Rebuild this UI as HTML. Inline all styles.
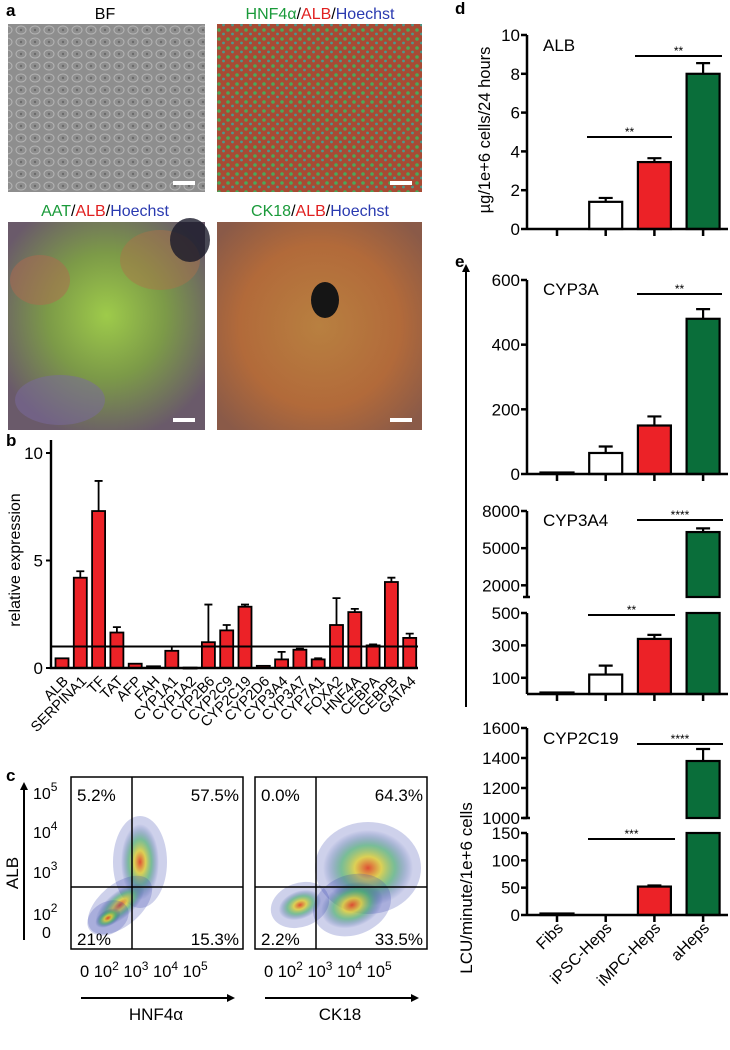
<!DOCTYPE html>
<html><head><meta charset="utf-8">
<style>
html,body{margin:0;padding:0;background:#fff;}
svg{display:block;font-family:"Liberation Sans",sans-serif;}
</style></head>
<body>
<svg id="fig" width="730" height="1050" viewBox="0 0 730 1050" xmlns="http://www.w3.org/2000/svg">
<defs>
  <pattern id="greenDots" width="9" height="9" patternUnits="userSpaceOnUse">
    <rect width="9" height="9" fill="#a84a34"/>
    <circle cx="3" cy="3" r="1.8" fill="#4aa85a"/>
    <circle cx="7.5" cy="7" r="1.4" fill="#4a9a8a"/>
  </pattern>
  <pattern id="bfTex" width="14" height="12" patternUnits="userSpaceOnUse">
    <rect width="14" height="12" fill="#8e8e8e"/>
    <ellipse cx="7" cy="6" rx="5" ry="4" fill="none" stroke="#b4b4b4" stroke-width="1"/>
    <circle cx="7" cy="6" r="1.2" fill="#6a6a6a"/>
  </pattern>
  <radialGradient id="aatG" cx="50%" cy="45%" r="60%">
    <stop offset="0" stop-color="#9ecb4a"/><stop offset="0.5" stop-color="#7c9a48"/><stop offset="1" stop-color="#6a5a6a"/>
  </radialGradient>
  <radialGradient id="ck18G" cx="50%" cy="50%" r="65%">
    <stop offset="0" stop-color="#b88040"/><stop offset="0.6" stop-color="#b26a3a"/><stop offset="1" stop-color="#8a5a48"/>
  </radialGradient>
  <radialGradient id="flowA" cx="50%" cy="50%" r="50%">
    <stop offset="0" stop-color="#e04020" stop-opacity="0.9"/><stop offset="0.3" stop-color="#e0d030" stop-opacity="0.8"/><stop offset="0.6" stop-color="#40b060" stop-opacity="0.6"/><stop offset="1" stop-color="#2030a0" stop-opacity="0"/>
  </radialGradient>
  <marker id="arrowHead" markerWidth="8" markerHeight="8" refX="4" refY="4" orient="auto" markerUnits="userSpaceOnUse"><path d="M0,0 L8,4 L0,8 z" fill="#000"/></marker>
</defs>

<g>
  <text x="6" y="16" font-size="17" font-weight="bold">a</text>
  <text x="105" y="19" font-size="16" text-anchor="middle">BF</text>
  <text x="320" y="19" font-size="16" text-anchor="middle"><tspan fill="#1a9a3a">HNF4α</tspan>/<tspan fill="#e02020">ALB</tspan>/<tspan fill="#2a3ab0">Hoechst</tspan></text>
  <rect x="8" y="24" width="197" height="168" fill="url(#bfTex)"/>
  <rect x="217" y="24" width="205" height="168" fill="url(#greenDots)"/>
  <rect x="173" y="181" width="22" height="4" fill="#fff"/>
  <rect x="390" y="181" width="22" height="4" fill="#fff"/>
  <text x="105" y="216" font-size="16" text-anchor="middle"><tspan fill="#1a9a3a">AAT</tspan>/<tspan fill="#e02020">ALB</tspan>/<tspan fill="#2a3ab0">Hoechst</tspan></text>
  <text x="320" y="216" font-size="16" text-anchor="middle"><tspan fill="#1a9a3a">CK18</tspan>/<tspan fill="#e02020">ALB</tspan>/<tspan fill="#2a3ab0">Hoechst</tspan></text>
  <rect x="8" y="222" width="197" height="208" fill="url(#aatG)"/>
  <ellipse cx="40" cy="280" rx="30" ry="25" fill="#b06a50" opacity="0.5"/>
  <ellipse cx="160" cy="260" rx="40" ry="30" fill="#b0704a" opacity="0.45"/>
  <ellipse cx="60" cy="400" rx="45" ry="25" fill="#7a6aa0" opacity="0.5"/>
  <ellipse cx="190" cy="240" rx="20" ry="22" fill="#1a1a2a" opacity="0.8"/>
  <rect x="217" y="222" width="205" height="208" fill="url(#ck18G)"/>
  <ellipse cx="325" cy="300" rx="14" ry="18" fill="#151515"/>
  <rect x="173" y="418" width="22" height="4" fill="#fff"/>
  <rect x="390" y="418" width="22" height="4" fill="#fff"/>
</g>

<g id="panelB"></g>
<g id="panelC"></g>
<g id="panelD"></g>
<g id="panelE"></g>
</svg>

<script>
// ---------- data ----------
const genes = ["ALB","SERPINA1","TF","TAT","AFP","FAH","CYP1A1","CYP1A2","CYP2B6","CYP2C9","CYP2C19","CYP2D6","CYP3A4","CYP3A7","CYP7A1","FOXA2","HNF4A","CEBPA","CEBPB","GATA4"];
const geneMeans = [0.45,4.2,7.3,1.65,0.2,0.08,0.8,0.02,1.2,1.75,2.85,0.1,0.4,0.85,0.4,2.0,2.6,1.05,4.0,1.4];
const geneErrTops = [0.45,4.5,8.7,1.9,0.2,0.08,1.0,0.02,2.95,2.0,2.95,0.1,0.75,0.9,0.45,3.25,2.75,1.1,4.2,1.6];
const geneTicks = [0,5,10];

const groups = ["Fibs","iPSC-Heps","iMPC-Heps","aHeps"];
const groupColors = ["#fff","#fff","#ec2227","#0a6e3a"];
const albMeans = [0,1.4,3.45,8.0];
const albErr = [0,1.6,3.65,8.55];
const albTicks = [0,2,4,6,8,10];
const cyp3aMeans = [4,65,150,480];
const cyp3aErr = [4,85,178,510];
const cyp3aTicks = [0,200,400,600];
const cyp3a4Means = [2,120,340,6300];
const cyp3a4Err = [2,175,365,6600];
const cyp3a4Ticks = [100,300,500,2000,5000,8000];
const cyp2c19Means = [1,0,52,1380];
const cyp2c19Err = [1,0,54,1460];
const cyp2c19Ticks = [0,50,100,150,1000,1200,1400,1600];

const NS = "http://www.w3.org/2000/svg";
function el(parent, tag, attrs, text){
  const e = document.createElementNS(NS, tag);
  for (const k in attrs) e.setAttribute(k, attrs[k]);
  if (text !== undefined) e.textContent = text;
  parent.appendChild(e);
  return e;
}

// ---------- panel b ----------
(function(){
  const g = document.getElementById('panelB');
  const x0 = 51, xEnd = 418, y0 = 668, pxPerUnit = 21.5;
  const y = v => y0 - v * pxPerUnit;
  const xc = i => 62 + i * 18.3;
  let t = el(g,'text',{x:6,y:446,'font-size':17,'font-weight':'bold'},'b');
   
  genes.forEach((gn,i)=>{
    const top = y(geneMeans[i]);
    const r = el(g,'rect',{x:xc(i)-6.5,y:top,width:13,height:Math.max(y0-top,1),fill:'#ec2227',stroke:'#000','stroke-width':1.8});
     
    if (geneErrTops[i] > geneMeans[i]+0.02){
      const ey = y(geneErrTops[i]);
      const l = el(g,'path',{d:`M${xc(i)},${top} V${ey} M${xc(i)-4},${ey} H${xc(i)+4}`,stroke:'#000','stroke-width':1.8,fill:'none'});
       
    }
    const lx = xc(i)+7, ly = y0+14;
    const lb = el(g,'text',{x:lx,y:ly,'font-size':14.5,'text-anchor':'end',transform:`rotate(-45 ${lx} ${ly})`},gn);
     
  });
  const ax = el(g,'path',{d:`M${x0},440 V${y0} H${xEnd}`,stroke:'#000','stroke-width':2.4,fill:'none'});
   
  const ref = el(g,'line',{x1:x0,x2:xEnd,y1:y(1),y2:y(1),stroke:'#000','stroke-width':2});
   
  geneTicks.forEach(v=>{
    el(g,'line',{x1:x0-5,x2:x0,y1:y(v),y2:y(v),stroke:'#000','stroke-width':2});
    const tl = el(g,'text',{x:x0-8,y:y(v)+6,'font-size':17,'text-anchor':'end'},v);
     
  });
  const yt = el(g,'text',{x:20,y:560,'font-size':16,'text-anchor':'middle',transform:'rotate(-90 20 560)'},'relative expression');
   
})();

// ---------- panel c ----------
(function(){
  const g = document.getElementById('panelC');
  let t = el(g,'text',{x:6,y:781,'font-size':17,'font-weight':'bold'},'c');
   
  const plots = [
    {x:71, gate:132, name:'hnf4a', xl:'HNF4α', q:['5.2%','57.5%','21%','15.3%'],
     blobs:[[140,862,19,38,0],[120,905,30,13,-40],[108,918,14,8,-30]]},
    {x:255, gate:316, name:'ck18', xl:'CK18', q:['0.0%','64.3%','2.2%','33.5%'],
     blobs:[[368,868,45,38,0],[352,905,32,22,-20],[300,905,22,14,-20]]}
  ];
  plots.forEach(p=>{
    const w=172, top=777, bot=949, hy=887;
    const box = el(g,'rect',{x:p.x,y:top,width:w,height:bot-top,fill:'#fff',stroke:'#000','stroke-width':1.5});
     
    p.blobs.forEach((b,i)=>{
      el(g,'ellipse',{cx:b[0],cy:b[1],rx:b[2]+8,ry:b[3]+8,fill:'#3a48b0',opacity:0.25,transform:`rotate(${b[4]} ${b[0]} ${b[1]})`});
      const e = el(g,'ellipse',{cx:b[0],cy:b[1],rx:b[2],ry:b[3],fill:'url(#flowA)',transform:`rotate(${b[4]} ${b[0]} ${b[1]})`});
       
    });
    el(g,'line',{x1:p.gate,x2:p.gate,y1:top,y2:bot,stroke:'#000','stroke-width':1.5});
    el(g,'line',{x1:p.x,x2:p.x+w,y1:hy,y2:hy,stroke:'#000','stroke-width':1.5});
    const pos = [[p.x+6,801,'start'],[p.x+w-4,801,'end'],[p.x+6,945,'start'],[p.x+w-4,945,'end']];
    p.q.forEach((q,i)=>{
      const tq = el(g,'text',{x:pos[i][0],y:pos[i][1],'font-size':17,'text-anchor':pos[i][2]},q);
       
    });
    const xt = el(g,'text',{x:p.x+9,y:977,'font-size':16.5},'');
    xt.innerHTML = '0 10<tspan dy="-7" font-size="12">2</tspan><tspan dy="7"> 10</tspan><tspan dy="-7" font-size="12">3</tspan><tspan dy="7"> 10</tspan><tspan dy="-7" font-size="12">4</tspan><tspan dy="7"> 10</tspan><tspan dy="-7" font-size="12">5</tspan>';
     
    const ar = el(g,'line',{x1:p.x+10,x2:p.x+160,y1:998,y2:998,stroke:'#000','stroke-width':2,'marker-end':'url(#arrowHead)'});
     
    const xl = el(g,'text',{x:p.x+85,y:1020,'font-size':17,'text-anchor':'middle'},p.xl);
     
  });
  const yTicks = [[793,'5'],[832,'4'],[872,'3'],[914,'2']];
  yTicks.forEach(tk=>{
    const tt = el(g,'text',{x:33,y:tk[0]+6,'font-size':16},'');
    tt.innerHTML = '10<tspan dy="-8" font-size="12">'+tk[1]+'</tspan>';
     
  });
  el(g,'text',{x:42,y:938,'font-size':16},'0');
  const ya = el(g,'line',{x1:24,x2:24,y1:940,y2:786,stroke:'#000','stroke-width':2,'marker-end':'url(#arrowHead)'});
   
  const yl = el(g,'text',{x:18,y:873,'font-size':17,'text-anchor':'middle',transform:'rotate(-90 18 873)'},'ALB');
   
})();

// ---------- panels d/e ----------
const xAxisX = 527, xAxisEnd = 728;
const gx = i => 557 + i*48.7;
function barPanel(g, name, means, errs, ticks, yFn, axisTop, y0, breakSeg, sigs, title, titleY){
  means.forEach((m,i)=>{
    const pieces = [];
    if (breakSeg && m > breakSeg.lowMax){
      pieces.push([yFn(breakSeg.lowMax), y0]);
      pieces.push([yFn(m), breakSeg.upBottom]);
    } else pieces.push([yFn(m), y0]);
    pieces.forEach((pc,k)=>{
      const h = Math.max(pc[1]-pc[0], m>0?1.5:0);
      if (h<=0) return;
      const r = el(g,'rect',{x:gx(i)-16.5,y:pc[1]-h,width:33,height:h,fill:groupColors[i],stroke:'#000','stroke-width':2.2});
      
      
    });
    if (errs[i] > m){
      const top = yFn(m), ey = yFn(errs[i]);
      const eb = el(g,'path',{d:`M${gx(i)},${top} V${ey} M${gx(i)-7},${ey} H${gx(i)+7}`,stroke:'#000','stroke-width':2.2,fill:'none'});
      
      
    }
  });
  let d;
  if (breakSeg) d = `M${xAxisX},${axisTop} V${breakSeg.upBottom} M${xAxisX},${breakSeg.lowTop} V${y0}`;
  else d = `M${xAxisX},${axisTop} V${y0}`;
  const ax = el(g,'path',{d:d+` M${xAxisX},${y0} H${xAxisEnd}`,stroke:'#000','stroke-width':2.5,fill:'none'});
   
  if (breakSeg){
    el(g,'line',{x1:xAxisX-4,x2:xAxisX+3,y1:breakSeg.upBottom,y2:breakSeg.upBottom,stroke:'#000','stroke-width':2.5});
  }
  groups.forEach((gr,i)=>{ el(g,'line',{x1:gx(i),x2:gx(i),y1:y0,y2:y0+7,stroke:'#000','stroke-width':2.5}); });
  ticks.forEach(v=>{
    const yy = yFn(v);
    el(g,'line',{x1:xAxisX-6,x2:xAxisX,y1:yy,y2:yy,stroke:'#000','stroke-width':2.5});
    const tl = el(g,'text',{x:xAxisX-7,y:yy+6,'font-size':17,'text-anchor':'end'},v);
     
  });
  const tt = el(g,'text',{x:543,y:titleY,'font-size':17},title);
   
  sigs.forEach((s,k)=>{
    const sl = el(g,'line',{x1:s[0],x2:s[1],y1:s[2],y2:s[2],stroke:'#000','stroke-width':2});
     
    const st = el(g,'text',{x:(s[0]+s[1])/2,y:s[2]-1,'font-size':12,'text-anchor':'middle'},s[3]);
     
  });
}

(function(){
  const g = document.getElementById('panelD');
  const t = el(g,'text',{x:455,y:14,'font-size':17,'font-weight':'bold'},'d');
   
  const y0 = 229, y = v => y0 - v*19.4;
  barPanel(g,'alb',albMeans,albErr,albTicks,y,35,y0,null,[[587,672,137,'**'],[635,722,56,'**']],'ALB',51);
  const yl = el(g,'text',{x:490,y:130,'font-size':16.5,'text-anchor':'middle',transform:'rotate(-90 490 130)'},'µg/1e+6 cells/24 hours');
   
})();

(function(){
  const g = document.getElementById('panelE');
  const t = el(g,'text',{x:455,y:267,'font-size':17,'font-weight':'bold'},'e');
   
  const y3a = v => 474 - v*(194/600);
  barPanel(g,'cyp3a',cyp3aMeans,cyp3aErr,cyp3aTicks,y3a,280,474,null,[[637,722,294,'**']],'CYP3A',295);
  const y3a4 = v => v<=500 ? 694 - v*(81/500) : 597.7 - (v-1000)*(86.7/7000);
  barPanel(g,'cyp3a4',cyp3a4Means,cyp3a4Err,cyp3a4Ticks,y3a4,511,694,{lowMax:500,lowTop:613,upBottom:597},[[637,723,520,'****'],[588,675,615,'**']],'CYP3A4',526);
  const y2c = v => v<=150 ? 915 - v*(82/150) : 818 - (v-1000)*(90/600);
  barPanel(g,'cyp2c19',cyp2c19Means,cyp2c19Err,cyp2c19Ticks,y2c,728,915,{lowMax:150,lowTop:833,upBottom:818},[[637,723,744,'****'],[588,675,839,'***']],'CYP2C19',744);
  groups.forEach((gr,i)=>{
    const lb = el(g,'text',{x:gx(i)+7,y:929,'font-size':16,'text-anchor':'end',transform:`rotate(-45 ${gx(i)+7} 929)`},gr);
     
  });
  const ar = el(g,'line',{x1:466,x2:466,y1:707,y2:268,stroke:'#000','stroke-width':2,'marker-end':'url(#arrowHead)'});
   
  const yl = el(g,'text',{x:472,y:888,'font-size':17,'text-anchor':'middle',transform:'rotate(-90 472 888)'},'LCU/minute/1e+6 cells');
   
})();
</script>
</body></html>
